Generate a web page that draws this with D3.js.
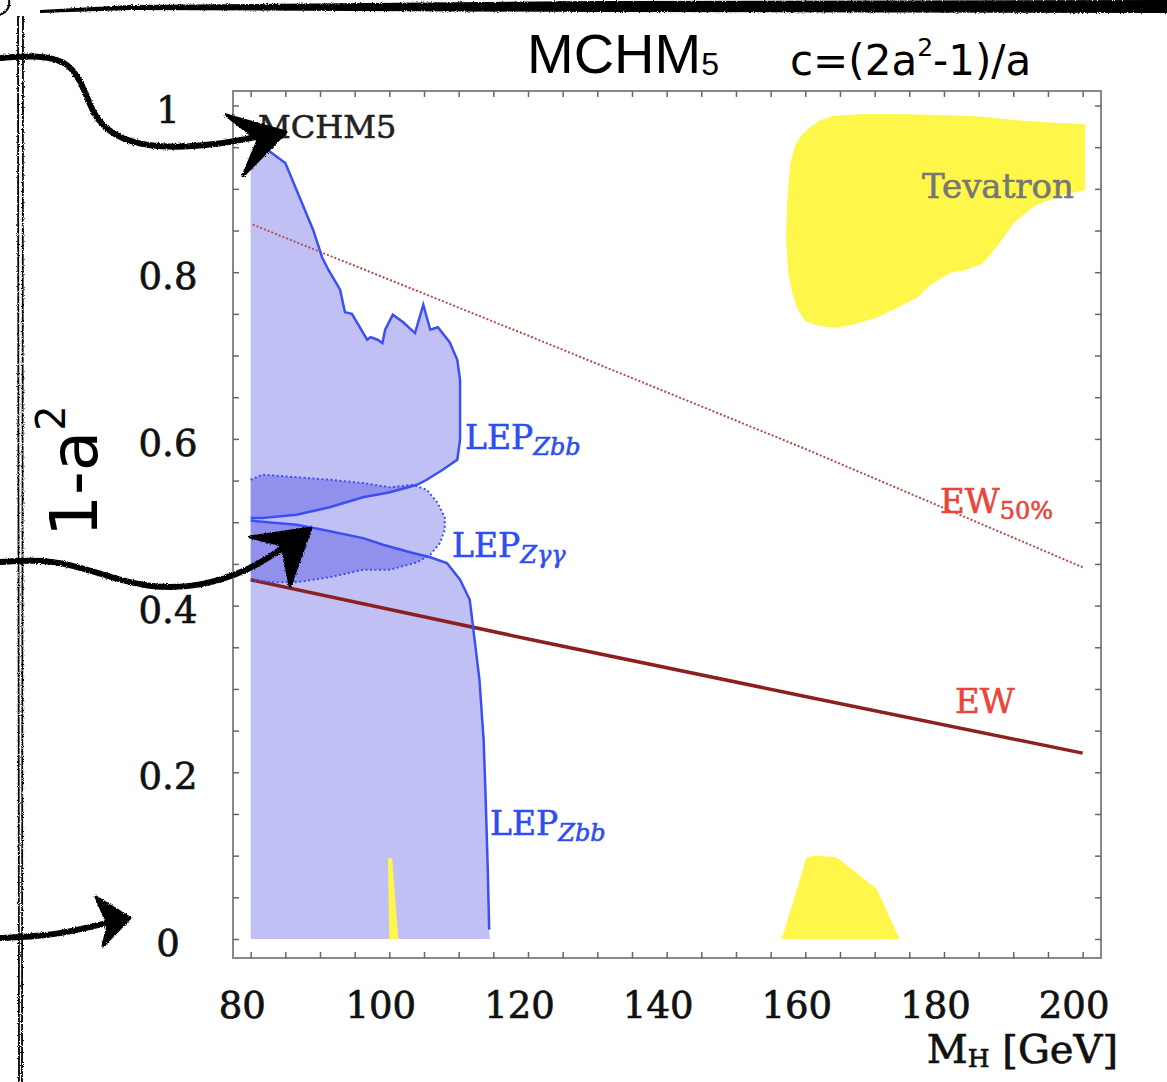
<!DOCTYPE html>
<html>
<head>
<meta charset="utf-8">
<script src="https://cdn.jsdelivr.net/npm/d3@7"></script>
<style>
  body { margin: 0; background: #fff; }
  svg { display: block; }
</style>
</head>
<body>
<div id="chart"></div>
<script>
var W = 1167, H = 1082;

// axis ticks
var xTicks = [80, 100, 120, 140, 160, 180, 200];
var yTicks = [0, 0.2, 0.4, 0.6, 0.8, 1];

// LEP Zbb exclusion: upper boundary (down to the notch) and lower boundary
var lepZbbTop = [[80,0.947],[82.4,0.947],[85,0.931],[89,0.851],[90.3,0.818],[91.2,0.803],[92.9,0.779],
  [93.6,0.752],[94.6,0.750],[96.8,0.719],[97.3,0.722],[98.3,0.719],[99,0.715],[99.4,0.731],[100.5,0.749],
  [102,0.740],[103.7,0.727],[104.9,0.761],[105.9,0.731],[107,0.734],[108.7,0.716],[109.8,0.695],
  [110.2,0.671],[110.2,0.599],[109.8,0.575],[107.7,0.563],[105.4,0.551],[104,0.545],[100.1,0.536],
  [96.2,0.530],[91.4,0.518],[86.6,0.509],[81.7,0.505],[80,0.505]];
var lepZbbBottom = [[80,0.502],[86.6,0.497],[90.4,0.491],[96.2,0.481],[99.1,0.473],[103,0.464],
  [105.9,0.458],[108.3,0.451],[110.2,0.431],[111.6,0.407],[112.3,0.359],[113,0.311],[113.6,0.239],
  [113.9,0.167],[114.2,0.083],[114.4,0.011]];

// LEP Z gamma gamma exclusion (dotted contour)
var lepZgg = [[80,0.551],[81.7,0.557],[86.6,0.554],[91.4,0.551],[96.2,0.547],[100.1,0.542],[103.4,0.545],
  [105.4,0.539],[106.9,0.524],[108,0.506],[108,0.491],[107.3,0.475],[105.9,0.461],[104,0.452],
  [100.1,0.443],[96.2,0.443],[91.4,0.434],[86.6,0.428],[83,0.428],[80,0.431]];

// electroweak bounds
var ewLine = [[80,0.431],[120,0.360],[160,0.291],[200,0.223]];
var ew50Line = [[80.3,0.857],[120,0.724],[160,0.588],[200,0.446]];

// Tevatron exclusions
var tevatronTop = [[160.5,0.972],[162,0.981],[164,0.987],[168,0.989],[173.6,0.989],[180,0.988],
  [185.6,0.986],[190,0.982],[195.3,0.979],[200.3,0.977],[200.3,0.899],[197,0.893],[193,0.880],
  [190,0.859],[187.5,0.830],[185.6,0.811],[183,0.803],[180.9,0.800],[178,0.785],[176.1,0.770],
  [173,0.757],[170.3,0.746],[167,0.738],[164.5,0.734],[162,0.736],[160,0.742],[159,0.755],
  [158.2,0.775],[157.6,0.800],[157.3,0.840],[157.5,0.890],[157.9,0.930],[158.6,0.952],[159.5,0.964]];
var tevatronLow = [[156.6,0],[160.2,0.098],[161.5,0.1],[164.5,0.098],[170.3,0.06],[173.6,0]];
var tevatronSliver = [[99.8,0.097],[100.4,0.097],[101.3,0],[100.0,0]];

var svg = d3.select("#chart").append("svg")
  .attr("width", W)
  .attr("height", H);

var defs = svg.append("defs");
var rough = defs.append("filter").attr("id", "rough")
  .attr("x", "-5%").attr("y", "-5%").attr("width", "110%").attr("height", "110%");
rough.append("feTurbulence").attr("type", "fractalNoise").attr("baseFrequency", 0.9)
  .attr("numOctaves", 2).attr("result", "noise");
rough.append("feDisplacementMap").attr("in", "SourceGraphic").attr("in2", "noise")
  .attr("scale", 3).attr("xChannelSelector", "R").attr("yChannelSelector", "G");

var x = d3.scaleLinear().domain([77.45, 202.65]).range([233, 1101]);
var y = d3.scaleLinear().domain([-0.0228, 1.0174]).range([958, 91]);

var line = d3.line().x(function (d) { return x(d[0]); }).y(function (d) { return y(d[1]); });

var plot = svg.append("g");

// blue exclusion fills
var zbbPoly = [[80,0]].concat(lepZbbTop, lepZbbBottom, [[114.5,0]]);
plot.append("path")
  .attr("d", line(zbbPoly) + "Z")
  .attr("fill", "#0505d8")
  .attr("fill-opacity", 0.25);

plot.append("path")
  .attr("d", line(lepZgg) + "Z")
  .attr("fill", "#0505d8")
  .attr("fill-opacity", 0.25);

// yellow Tevatron regions
plot.append("path").attr("d", line(tevatronTop) + "Z").attr("fill", "#fff64a")
  .attr("stroke", "#fff64a").attr("stroke-width", 1).attr("stroke-linejoin", "round");
plot.append("path").attr("d", line(tevatronLow) + "Z").attr("fill", "#fff64a");
plot.append("path").attr("d", line(tevatronSliver) + "Z").attr("fill", "#fff64a");

// EW lines
plot.append("path").attr("d", line(ew50Line))
  .attr("fill", "none").attr("stroke", "#b24a4a").attr("stroke-width", 2)
  .attr("stroke-dasharray", "2,2");
plot.append("path").attr("d", line(ewLine))
  .attr("fill", "none").attr("stroke", "#8c1f1f").attr("stroke-width", 3.5);

// LEP boundaries
plot.append("path").attr("d", line(lepZbbTop.slice(1)))
  .attr("fill", "none").attr("stroke", "#3c50f0").attr("stroke-width", 2.5);
plot.append("path").attr("d", line(lepZbbBottom))
  .attr("fill", "none").attr("stroke", "#3c50f0").attr("stroke-width", 2.5);
plot.append("path").attr("d", line(lepZgg))
  .attr("fill", "none").attr("stroke", "#3c50f0").attr("stroke-width", 2)
  .attr("stroke-dasharray", "2,2.5");

// in-plot labels
var serif = "'DejaVu Serif', serif";
function label(px, py, main, sub, color, size, subSize, subDy, italic) {
  var t = svg.append("text").attr("x", px).attr("y", py)
    .attr("font-family", serif).attr("font-size", size).attr("fill", color)
    .attr("stroke", color).attr("stroke-width", 0.6);
  t.append("tspan").text(main);
  if (sub) {
    t.append("tspan").text(sub).attr("font-size", subSize).attr("dy", subDy)
      .attr("font-style", italic ? "italic" : "normal");
  }
}
label(465, 449, "LEP", "Zbb", "#2d4ff0", 33, 24, 6, true);
label(452, 557, "LEP", "Z\u03b3\u03b3", "#2d4ff0", 33, 24, 6, true);
label(490, 835, "LEP", "Zbb", "#2d4ff0", 33, 24, 6, true);
label(940, 513, "EW", "50%", "#e8453c", 34, 24, 6, false);
label(955, 713, "EW", null, "#e8453c", 34);
label(922, 198, "Tevatron", null, "#777", 34);
label(258, 138, "MCHM5", null, "#222", 32);

// frame
svg.append("rect")
  .attr("x", 233).attr("y", 91).attr("width", 1101 - 233).attr("height", 958 - 91)
  .attr("fill", "none").attr("stroke", "#888").attr("stroke-width", 2);

// axes with inward ticks
var xMinor = d3.range(80, 201, 5);
var yMinor = d3.range(0, 1.001, 0.05);

function styleAxis(g) {
  g.select(".domain").remove();
  g.selectAll(".tick line").attr("stroke", "#666").attr("stroke-width", 1.5);
  g.selectAll("text").attr("font-family", serif).attr("font-size", 37).attr("fill", "#111")
    .attr("stroke", "#111").attr("stroke-width", 0.7);
}

svg.append("g").attr("transform", "translate(0,958)")
  .call(d3.axisBottom(x).tickValues(xMinor).tickSizeInner(-6).tickSizeOuter(0).tickPadding(34)
    .tickFormat(function (d) { return xTicks.indexOf(d) >= 0 ? d : ""; }))
  .call(styleAxis)
  .call(function (g) { g.selectAll("text").attr("x", -9); });

svg.append("g").attr("transform", "translate(0,91)")
  .call(d3.axisTop(x).tickValues(xMinor).tickSizeInner(-6).tickSizeOuter(0).tickFormat(""))
  .call(styleAxis);

svg.append("g").attr("transform", "translate(233,0)")
  .call(d3.axisLeft(y).tickValues(yMinor).tickSizeInner(-6).tickSizeOuter(0)
    .tickFormat(function (d) {
      var r = Math.round(d * 100) / 100;
      return yTicks.indexOf(r) >= 0 ? d3.format("~g")(r) : "";
    }))
  .call(styleAxis)
  .call(function (g) {
    g.selectAll("text").attr("text-anchor", "middle").attr("x", -65).attr("dy", "0.45em");
  });

svg.append("g").attr("transform", "translate(1101,0)")
  .call(d3.axisRight(y).tickValues(yMinor).tickSizeInner(-6).tickSizeOuter(0).tickFormat(""))
  .call(styleAxis);

// axis title
var xt = svg.append("text").attr("x", 1118).attr("y", 1063).attr("text-anchor", "end")
  .attr("font-family", serif).attr("font-size", 40).attr("fill", "#111")
  .attr("stroke", "#111").attr("stroke-width", 0.7);
xt.append("tspan").text("M");
xt.append("tspan").text("H").attr("font-size", 25).attr("dy", 4);
xt.append("tspan").text(" [GeV]").attr("dy", -4);

// slide title
var tt = svg.append("text").attr("x", 527).attr("y", 73)
  .attr("font-family", "'Liberation Sans', Arial, sans-serif").attr("font-size", 56).attr("fill", "#000");
tt.append("tspan").text("MCHM");
tt.append("tspan").text("5").attr("font-size", 32).attr("dy", 2);

var ct = svg.append("text").attr("x", 790).attr("y", 75)
  .attr("font-family", "'DejaVu Sans', sans-serif").attr("font-size", 42).attr("fill", "#000");
ct.append("tspan").text("c=(2a");
ct.append("tspan").text("2").attr("font-size", 25).attr("dy", -19);
ct.append("tspan").text("-1)/a").attr("dy", 19);

var yt = svg.append("text").attr("transform", "translate(97,537) rotate(-90)")
  .attr("font-family", "'DejaVu Sans', sans-serif").attr("font-size", 66).attr("fill", "#000");
yt.append("tspan").text("1-a");
yt.append("tspan").text("2").attr("font-size", 40).attr("dy", -32);

// hand-drawn slide marks
var ink = svg.append("g").attr("filter", "url(#rough)");
var curve = d3.line().curve(d3.curveBasis);

ink.append("path").attr("d", "M40,10 L130,5 L600,1 L1167,0 L1167,13 L600,12 L130,10 L40,13 Z")
  .attr("fill", "#000");
ink.append("path").attr("d", "M0,15 Q11,10 9,0").attr("fill", "none")
  .attr("stroke", "#000").attr("stroke-width", 2);
ink.append("path").attr("d", "M18,16 L19,1082 M23,16 L22,1082").attr("fill", "none")
  .attr("stroke", "#000").attr("stroke-width", 1.8);

var shafts = [
  [[0,58],[40,55],[70,62],[85,90],[95,120],[120,140],[160,148],[210,146],[272,134]],
  [[0,562],[33,560],[67,563],[110,577],[150,588],[200,587],[250,570],[280,550],[300,536]],
  [[0,938],[50,936],[90,927],[120,920]]
];
shafts.forEach(function (s) {
  ink.append("path").attr("d", curve(s)).attr("fill", "none")
    .attr("stroke", "#000").attr("stroke-width", 6).attr("stroke-linecap", "round");
});
var heads = [
  [[286,132],[226,115],[258,140],[243,176]],
  [[311,528],[250,537],[282,545],[290,586]],
  [[130,918],[96,897],[108,925],[103,946]]
];
heads.forEach(function (h) {
  ink.append("path").attr("d", d3.line()(h) + "Z").attr("fill", "#000")
    .attr("stroke", "#000").attr("stroke-width", 3).attr("stroke-linejoin", "round");
});
</script>
</body>
</html>
